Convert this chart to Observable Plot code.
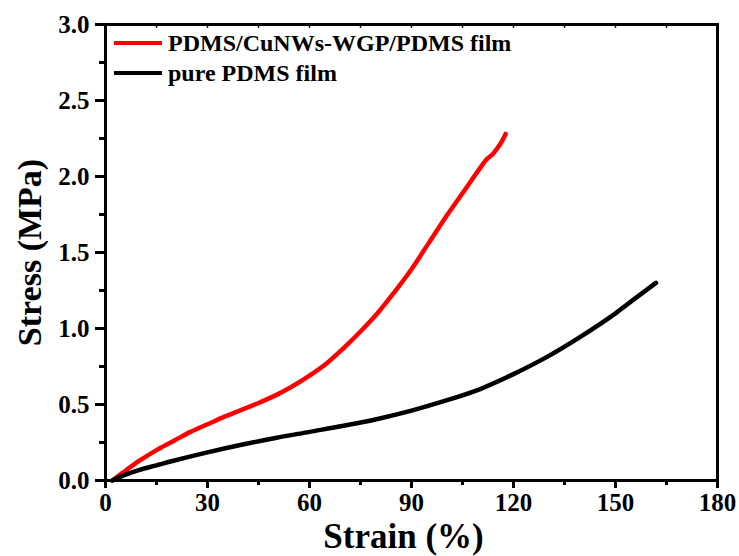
<!DOCTYPE html>
<html>
<head>
<meta charset="utf-8">
<script src="https://cdn.jsdelivr.net/npm/d3@7"></script>
<script src="https://cdn.jsdelivr.net/npm/@observablehq/plot@0.6"></script>
<style>
  body { margin: 0; background: #fff; }
  #wrap { position: relative; width: 739px; height: 556px; }
  #legend { position: absolute; left: 114px; top: 28px; font-family: "Liberation Serif", "Times New Roman", serif; font-weight: bold; font-size: 24px; color: #000; }
  #legend .row { display: flex; align-items: center; height: 30px; }
  #legend .swatch { width: 48px; height: 0; border-top: 4px solid; margin-right: 6px; }
</style>
</head>
<body>
<div id="wrap"><div id="legend"></div></div>
<script>
// Tensile stress–strain curves of the two films
const seriesNames = ["PDMS/CuNWs-WGP/PDMS film", "pure PDMS film"];
const seriesColors = ["#ff0000", "#000000"];

const compositeStrain = [2, 5, 10, 15, 20, 25, 30, 35, 40, 45, 50, 55, 60, 65, 70, 75, 80, 85, 90, 95, 100, 105, 110, 112, 114, 116, 117.7];
const compositeStress = [0.0, 0.05, 0.13, 0.20, 0.26, 0.32, 0.37, 0.42, 0.465, 0.51, 0.56, 0.62, 0.69, 0.77, 0.87, 0.98, 1.10, 1.24, 1.39, 1.56, 1.73, 1.89, 2.05, 2.11, 2.15, 2.21, 2.28];

const pureStrain = [2, 5, 10, 15, 20, 30, 40, 50, 60, 70, 80, 90, 100, 110, 120, 130, 140, 150, 155, 161.9];
const pureStress = [0.0, 0.03, 0.07, 0.10, 0.13, 0.185, 0.235, 0.28, 0.32, 0.36, 0.405, 0.46, 0.525, 0.60, 0.70, 0.815, 0.95, 1.10, 1.185, 1.30];

const xMajorTicks = [0, 30, 60, 90, 120, 150, 180];
const xMinorTicks = [15, 45, 75, 105, 135, 165];
const yMajorTicks = [0, 0.5, 1.0, 1.5, 2.0, 2.5, 3.0];
const yMinorTicks = [0.25, 0.75, 1.25, 1.75, 2.25, 2.75];

const rows = [
  ...compositeStrain.map((x, i) => ({series: seriesNames[0], strain: x, stress: compositeStress[i]})),
  ...pureStrain.map((x, i) => ({series: seriesNames[1], strain: x, stress: pureStress[i]}))
];

const font = '"Liberation Serif", "Times New Roman", serif';

const chart = Plot.plot({
  width: 739,
  height: 556,
  marginLeft: 105,
  marginRight: 22,
  marginTop: 24,
  marginBottom: 76,
  style: {fontFamily: font, fontWeight: "bold", color: "#000", background: "#fff", overflow: "visible"},
  x: {domain: [0, 180]},
  y: {domain: [0, 3]},
  color: {domain: seriesNames, range: seriesColors},
  marks: [
    // small ticks along the top edge of the frame
    Plot.ruleX([...xMajorTicks, ...xMinorTicks], {y1: 3, y2: 2.975, stroke: "#000", strokeWidth: 1.5}),
    Plot.line(rows, {x: "strain", y: "stress", z: "series", stroke: "series", strokeWidth: 4.5, curve: "catmull-rom"}),
    Plot.frame({stroke: "#000", strokeWidth: 3}),
    Plot.axisX({ticks: xMajorTicks, tickSize: 8, tickPadding: 5, strokeWidth: 3, fontSize: 25, label: null, tickFormat: d => String(d)}),
    Plot.axisX({ticks: xMinorTicks, tickSize: 5, strokeWidth: 3, text: null, label: null}),
    Plot.axisY({ticks: yMajorTicks, tickSize: 10, tickPadding: 6, strokeWidth: 3, fontSize: 25, label: null, tickFormat: d => d.toFixed(1)}),
    Plot.axisY({ticks: yMinorTicks, tickSize: 6, strokeWidth: 3, text: null, label: null}),
    Plot.text(["Strain (%)"], {frameAnchor: "bottom", lineAnchor: "bottom", textAnchor: "middle", dx: -8, dy: 67, fontSize: 35, fontWeight: "bold"}),
    Plot.text(["Stress (MPa)"], {frameAnchor: "left", textAnchor: "middle", lineAnchor: "middle", dx: -75, rotate: -90, fontSize: 34, fontWeight: "bold"})
  ]
});

document.getElementById("wrap").prepend(chart);

// Legend drawn over the upper-left corner of the plot area
const legend = d3.select("#legend");
seriesNames.forEach((name, i) => {
  const row = legend.append("div").attr("class", "row");
  row.append("span").attr("class", "swatch").style("border-color", seriesColors[i]);
  row.append("span").text(name);
});
</script>
</body>
</html>
